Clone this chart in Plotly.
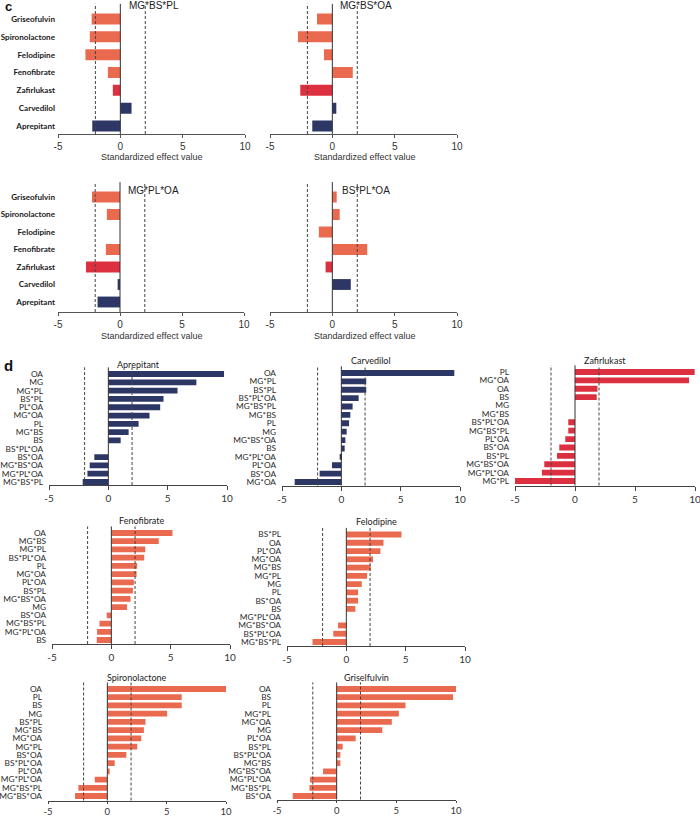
import plotly.graph_objects as go

# ---------------- DATA ----------------
c_drugs = ["Griseofulvin", "Spironolactone", "Felodipine", "Fenofibrate",
           "Zafirlukast", "Carvedilol", "Aprepitant"]
c_titles = ["MG*BS*PL", "MG*BS*OA", "MG*PL*OA", "BS*PL*OA"]
c_mg_bs_pl = [-2.3, -2.45, -2.8, -1.0, -0.6, 0.9, -2.25]
c_mg_bs_oa = [-1.23, -2.76, -0.67, 1.64, -2.57, 0.32, -1.61]
c_mg_pl_oa = [-2.26, -1.06, 0.0, -1.14, -2.74, -0.19, -1.81]
c_bs_pl_oa = [0.35, 0.59, -1.08, 2.8, -0.54, 1.48, 0.0]

apr_labels = ["OA", "MG", "MG*PL", "BS*PL", "PL*OA", "MG*OA", "PL", "MG*BS", "BS",
              "BS*PL*OA", "BS*OA", "MG*BS*OA", "MG*PL*OA", "MG*BS*PL"]
apr_values = [9.75, 7.42, 5.83, 4.65, 4.37, 3.47, 2.55, 1.71, 1.04, 0.0, -1.18, -1.57, -1.76, -2.16]

car_labels = ["OA", "MG*PL", "BS*PL", "BS*PL*OA", "MG*BS*PL", "MG*BS", "PL", "MG",
              "MG*BS*OA", "BS", "MG*PL*OA", "PL*OA", "BS*OA", "MG*OA"]
car_values = [9.52, 2.1, 2.1, 1.46, 0.95, 0.76, 0.65, 0.45, 0.34, 0.28, -0.14, -0.79, -1.83, -3.93]

zaf_labels = ["PL", "MG*OA", "OA", "BS", "MG", "MG*BS", "BS*PL*OA", "MG*BS*PL",
              "PL*OA", "BS*OA", "BS*PL", "MG*BS*OA", "MG*PL*OA", "MG*PL"]
zaf_values = [9.97, 9.5, 1.87, 1.81, 0.0, 0.0, -0.56, -0.56, -0.81, -1.31, -1.5, -2.56, -2.76, -5.0]

fen_labels = ["OA", "MG*BS", "MG*PL", "BS*PL*OA", "PL", "MG*OA", "PL*OA", "BS*PL",
              "MG*BS*OA", "MG", "BS*OA", "MG*BS*PL", "MG*PL*OA", "BS"]
fen_values = [5.15, 4.0, 2.86, 2.77, 2.18, 2.13, 1.9, 1.82, 1.62, 1.32, -0.39, -1.0, -1.2, -1.23]

fel_labels = ["BS*PL", "OA", "PL*OA", "MG*OA", "MG*BS", "MG*PL", "MG", "PL", "BS*OA",
              "BS", "MG*PL*OA", "MG*BS*OA", "BS*PL*OA", "MG*BS*PL"]
fel_values = [4.65, 3.13, 2.87, 2.25, 2.06, 1.75, 1.3, 0.99, 0.99, 0.76, 0.0, -0.7, -1.1, -2.85]

spi_labels = ["OA", "PL", "BS", "MG", "BS*PL", "MG*BS", "MG*OA", "MG*PL", "BS*OA",
              "BS*PL*OA", "PL*OA", "MG*PL*OA", "MG*BS*PL", "MG*BS*OA"]
spi_values = [10.0, 6.27, 6.27, 5.04, 3.22, 3.08, 2.86, 2.52, 1.6, 0.62, 0.2, -1.06, -2.44, -2.72]

gri_labels = ["OA", "BS", "PL", "MG*PL", "MG*OA", "MG", "PL*OA", "BS*PL", "BS*PL*OA",
              "MG*BS", "MG*BS*OA", "MG*PL*OA", "MG*BS*PL", "BS*OA"]
gri_values = [10.0, 9.75, 5.77, 5.21, 4.62, 3.82, 1.59, 0.5, 0.31, 0.31, -1.14, -2.23, -2.28, -3.68]

x_ticks = [-5, 0, 5, 10]

# ---------------- STYLE ----------------
ORANGE = "#ea6a50"
RED = "#dc3040"
NAVY = "#2c3766"
c_colors = [ORANGE, ORANGE, ORANGE, ORANGE, RED, NAVY, NAVY]

W, H = 700, 816


def fx(p):
    return p / W


def fy(p):
    return 1 - p / H


fig = go.Figure()
layout = dict(width=W, height=H, margin=dict(l=0, r=0, t=0, b=0, pad=0),
              paper_bgcolor="white", plot_bgcolor="white", showlegend=False,
              bargap=0.3, shapes=[], annotations=[])

idx = [0]


def add_panel(labels, values, colors, xl, xr, ytop, ybot, yaxis_px, bar_w,
              show_labels, label_font, tick_font, line_color, top_pad=0.85, ticklen=3,
              standoff=3):
    idx[0] += 1
    i = idx[0]
    n = len(labels)
    s = (ybot - ytop) / (n - 1)
    lo = (yaxis_px - ybot) / s
    dom_top = ytop - top_pad * s
    xa = "xaxis" if i == 1 else f"xaxis{i}"
    ya = "yaxis" if i == 1 else f"yaxis{i}"
    xr_ = "x" if i == 1 else f"x{i}"
    yr_ = "y" if i == 1 else f"y{i}"
    fig.add_trace(go.Bar(x=values, y=labels, orientation="h", width=bar_w,
                         marker=dict(color=colors, line=dict(width=0)),
                         xaxis=xr_, yaxis=yr_, hoverinfo="x+y"))
    layout[xa] = dict(domain=[fx(xl), fx(xr)], range=[-5, 10], anchor=yr_,
                      tickmode="array", tickvals=x_ticks,
                      ticktext=[str(t) for t in x_ticks],
                      showline=True, linecolor=line_color, linewidth=1,
                      ticks="outside", ticklen=ticklen, tickcolor=line_color,
                      showgrid=False, zeroline=False, tickfont=tick_font,
                      ticklabeloverflow="allow",
                      automargin=False, fixedrange=True)
    layout[ya] = dict(domain=[fy(yaxis_px), fy(dom_top)], anchor=xr_,
                      type="category", categoryorder="array",
                      categoryarray=list(reversed(labels)),
                      tickmode="array", tickvals=list(labels), ticktext=list(labels),
                      range=[-lo, n - 1 + top_pad],
                      showline=False, showgrid=False, zeroline=False,
                      ticks="", showticklabels=show_labels, tickfont=label_font,
                      ticklabelstandoff=standoff, ticklabeloverflow="allow",
                      automargin=False, fixedrange=True)
    for xv, dash, col in [(0, "solid", "#333333"), (-2, "3px,2px", "#444444"), (2, "3px,2px", "#444444")]:
        layout["shapes"].append(dict(type="line", xref=xr_, yref=f"{yr_} domain",
                                     x0=xv, x1=xv, y0=0, y1=1,
                                     line=dict(color=col, width=1, dash=dash)))
    return i


def ann(text, x, y, size, family="Liberation Sans", color="#222222", bold=False):
    layout["annotations"].append(dict(text=text, x=fx(x), y=fy(y), xref="paper", yref="paper",
                                      showarrow=False, xanchor="center", yanchor="middle",
                                      font=dict(size=size, family=family, color=color,
                                                weight="bold" if bold else "normal")))


# ---------------- PANEL C ----------------
c_label_font = dict(family="Lato", size=8.1, color="#1a1a1a", weight="bold")
c_tick_font = dict(family="Liberation Sans", size=10, color="#333333")
c_sets = [c_mg_bs_pl, c_mg_bs_oa, c_mg_pl_oa, c_bs_pl_oa]
c_geo = [  # xl, xr, ytop, ybot, yaxis, show_labels
    (58, 245, 19, 126, 134, True),
    (270, 457, 19, 126, 134, False),
    (58, 244, 197, 302, 312, True),
    (270, 457, 197, 302, 312, False),
]
for vals, g in zip(c_sets, c_geo):
    add_panel(c_drugs, vals, c_colors, g[0], g[1], g[2], g[3], g[4], 0.62,
              g[5], c_label_font, c_tick_font, "#555555", standoff=2)

for t, (x, y) in zip(c_titles, [(154, 6), (366, 6), (153, 190), (366, 190)]):
    ann(t, x, y, 10, color="#222222")
for (x, y) in [(151, 157), (151, 336), (364, 157), (364, 336)]:
    ann("Standardized effect value", x, y, 9, color="#333333")

ann("c", 8, 7, 13, family="Liberation Sans", color="#111111", bold=True)
ann("d", 8, 365, 15, family="Liberation Sans", color="#111111", bold=True)

# ---------------- PANEL D ----------------
d_label_font = dict(family="Lato", size=8.3, color="#2a2a2a")
d_tick_font = dict(family="Lato", size=10, color="#333333")
d_tick_font_low = dict(family="Lato", size=9.5, color="#333333")
d_panels = [
    ("Aprepitant", apr_labels, apr_values, NAVY, 49, 227, 374, 482, 485, 138, 364),
    ("Carvedilol", car_labels, car_values, NAVY, 282, 460, 373, 482, 485.5, 371, 360),
    ("Zafirlukast", zaf_labels, zaf_values, RED, 515, 695, 372, 481, 485.5, 605, 360),
    ("Fenofibrate", fen_labels, fen_values, ORANGE, 52, 230, 533, 640, 644, 141, 520),
    ("Felodipine", fel_labels, fel_values, ORANGE, 287, 465, 534.5, 642, 646, 376, 521),
    ("Spironolactone", spi_labels, spi_values, ORANGE, 48, 226, 689, 796, 800.5, 137, 677),
    ("Griselfulvin", gri_labels, gri_values, ORANGE, 277, 456, 689, 796, 799.5, 366, 677),
]
for k, (title, labs, vals, col, xl, xr, yt, yb, ya, tx, ty) in enumerate(d_panels):
    low = k >= 5
    add_panel(labs, vals, [col] * len(vals), xl, xr, yt, yb, ya, 0.7,
              True, d_label_font, d_tick_font_low if low else d_tick_font, "#444444",
              top_pad=0.8, ticklen=2 if low else 4, standoff=5)
    ann(title, tx, ty, 9, family="Lato", color="#222222")

fig.update_layout(**layout)
fig.write_html("out.html", config={"displayModeBar": False},
               post_script="document.body.style.margin='0';document.body.style.overflow='hidden';")
